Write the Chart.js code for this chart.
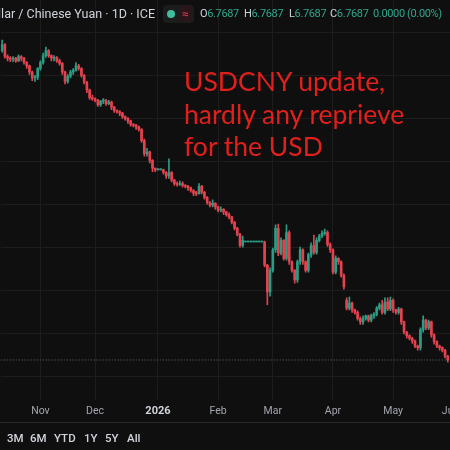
<!DOCTYPE html>
<html><head><meta charset="utf-8">
<script src="https://cdn.jsdelivr.net/npm/chart.js@4/dist/chart.umd.min.js"></script>
<style>
html,body{margin:0;padding:0;background:#0f0f0f;width:450px;height:450px;overflow:hidden;}
#wrap{position:relative;width:450px;height:450px;overflow:hidden;}
canvas{position:absolute;left:0;top:0;}
.ov{position:absolute;white-space:nowrap;font-family:Roboto,"Noto Sans",sans-serif;}
.hv{top:7px;font-size:11px;color:#d1d4dc;letter-spacing:-0.35px;}
.hv span{color:#2fa88e;}
.bt{top:431px;font-size:11.5px;font-weight:500;color:#d1d4dc;}
</style></head><body>
<div id="wrap">
<canvas id="c" width="464" height="450"></canvas>
<div class="ov" style="top:6px;right:295px;font-size:12.5px;color:#d1d4dc;">U.S. Dollar / Chinese Yuan · 1D · ICE</div>
<div class="ov" style="top:5px;left:163px;width:31px;height:18px;border-radius:4px;background:#1b1d1c;"></div>
<div class="ov" style="top:10px;left:167px;width:8px;height:8px;border-radius:4px;background:#3fbf9f;"></div>
<div class="ov" style="top:6px;left:179px;width:13px;height:16px;border-radius:3px;background:#2a1619;color:#d0405a;font-size:12px;line-height:16px;text-align:center;">≈</div>
<div class="ov hv" style="left:200px;">O<span>6.7687</span></div>
<div class="ov hv" style="left:244px;">H<span>6.7687</span></div>
<div class="ov hv" style="left:289px;">L<span>6.7687</span></div>
<div class="ov hv" style="left:330px;">C<span>6.7687</span></div>
<div class="ov hv" style="left:373px;"><span>0.0000 (0.00%)</span></div>
<div class="ov" style="top:65px;left:184px;font-family:Lato,sans-serif;font-size:26.5px;line-height:32.5px;color:#e0201c;">USDCNY update,<br>hardly any reprieve<br>for the USD</div>
<div class="ov" style="top:422px;left:0;width:450px;height:1px;background:#262626;"></div>
<div class="ov bt" style="left:7px;">3M</div>
<div class="ov bt" style="left:30px;">6M</div>
<div class="ov bt" style="left:54px;">YTD</div>
<div class="ov bt" style="left:84px;">1Y</div>
<div class="ov bt" style="left:105px;">5Y</div>
<div class="ov bt" style="left:127px;">All</div>
</div>
<script>
// Trading-day index of each bar (0 = first trading day of Nov 2025)
const firstIndex = -14;
const monthTicks = [0, 20, 43, 65, 85, 107, 129, 150];
const monthLabels = ['Nov', 'Dec', '2026', 'Feb', 'Mar', 'Apr', 'May', 'Jun'];
const yTicks = [6.75, 6.80, 6.85, 6.90, 6.95, 7.00, 7.05, 7.10, 7.15];

const opens = [
7.129,7.136,7.122,7.120,7.119,7.120,7.117,7.122,7.120,7.115,7.111,7.104,7.097,7.098,
7.108,7.115,7.123,7.129,7.123,7.120,7.121,7.117,7.114,7.104,
7.093,7.099,7.104,7.106,7.111,7.108,7.100,7.092,7.083,7.074,
7.073,7.071,7.066,7.070,7.071,7.067,7.069,7.063,7.059,7.058,
7.056,7.052,7.050,7.047,7.043,7.042,7.040,7.037,7.024,7.009,
7.011,7.001,6.992,6.990,6.990,6.990,6.987,6.983,6.987,6.978,
6.974,6.973,6.974,6.972,6.971,6.969,6.966,6.963,6.962,6.971,
6.964,6.958,6.952,6.949,6.951,6.947,6.943,6.944,6.941,6.938,
6.935,6.929,6.922,6.915,6.902,6.906,6.906,6.906,6.906,6.906,
6.906,6.906,6.906,6.879,6.848,6.873,6.897,6.922,6.893,6.908,
6.887,6.917,6.883,6.873,6.862,6.883,6.897,6.883,6.873,6.891,
6.902,6.894,6.908,6.913,6.916,6.917,6.903,6.897,6.871,6.887,
6.883,6.867,6.838,6.829,6.835,6.827,6.824,6.817,6.813,6.817,
6.820,6.815,6.820,6.822,6.829,6.833,6.824,6.836,6.828,6.838,
6.827,6.824,6.828,6.813,6.801,6.797,6.794,6.791,6.785,6.783,
6.804,6.815,6.806,6.813,6.798,6.790,6.785,6.783,6.780,6.773];

const highs = [
7.141,7.137,7.124,7.122,7.122,7.121,7.124,7.123,7.121,7.116,7.112,7.105,7.100,7.109,
7.117,7.126,7.133,7.130,7.124,7.123,7.122,7.119,7.115,7.105,
7.101,7.106,7.108,7.115,7.113,7.109,7.101,7.093,7.084,7.077,
7.074,7.072,7.071,7.073,7.072,7.071,7.070,7.064,7.060,7.059,
7.057,7.053,7.051,7.048,7.044,7.043,7.041,7.038,7.026,7.015,
7.012,7.002,6.992,6.990,6.990,6.991,6.988,7.003,6.988,6.979,
6.976,6.977,6.976,6.973,6.972,6.970,6.967,6.965,6.974,6.972,
6.965,6.959,6.953,6.955,6.952,6.948,6.947,6.945,6.942,6.940,
6.936,6.930,6.923,6.916,6.913,6.906,6.906,6.906,6.906,6.906,
6.906,6.906,6.907,6.880,6.876,6.899,6.926,6.927,6.911,6.909,
6.926,6.919,6.884,6.874,6.885,6.900,6.898,6.884,6.893,6.905,
6.914,6.911,6.915,6.919,6.921,6.919,6.905,6.898,6.890,6.888,
6.884,6.869,6.841,6.842,6.836,6.828,6.826,6.819,6.820,6.821,
6.821,6.822,6.824,6.831,6.835,6.838,6.841,6.841,6.842,6.840,
6.828,6.830,6.829,6.814,6.802,6.798,6.795,6.792,6.786,6.806,
6.820,6.816,6.815,6.814,6.799,6.791,6.786,6.784,6.781,6.774];

const lows = [
7.127,7.120,7.117,7.116,7.116,7.115,7.116,7.117,7.113,7.108,7.101,7.094,7.093,7.095,
7.106,7.113,7.121,7.121,7.117,7.117,7.115,7.112,7.101,7.090,
7.091,7.097,7.101,7.105,7.106,7.098,7.090,7.080,7.072,7.071,
7.069,7.064,7.064,7.067,7.065,7.066,7.060,7.057,7.056,7.053,
7.050,7.048,7.044,7.041,7.040,7.037,7.035,7.022,7.006,7.006,
6.998,6.988,6.988,6.990,6.990,6.985,6.980,6.980,6.976,6.972,
6.971,6.972,6.970,6.969,6.966,6.964,6.960,6.960,6.962,6.962,
6.956,6.950,6.947,6.947,6.944,6.941,6.941,6.938,6.936,6.933,
6.927,6.920,6.913,6.900,6.900,6.906,6.906,6.906,6.906,6.906,
6.906,6.906,6.877,6.833,6.843,6.871,6.894,6.890,6.891,6.885,
6.885,6.880,6.871,6.858,6.859,6.880,6.880,6.871,6.871,6.888,
6.892,6.892,6.906,6.911,6.914,6.901,6.894,6.869,6.869,6.880,
6.865,6.851,6.827,6.827,6.824,6.822,6.815,6.810,6.810,6.815,
6.813,6.813,6.817,6.820,6.827,6.822,6.822,6.826,6.826,6.824,
6.822,6.822,6.810,6.799,6.794,6.792,6.788,6.783,6.780,6.780,
6.801,6.804,6.804,6.795,6.787,6.783,6.780,6.778,6.771,6.766];

const closes = [
7.136,7.122,7.120,7.119,7.120,7.117,7.122,7.120,7.115,7.111,7.104,7.097,7.098,7.108,
7.115,7.123,7.129,7.123,7.120,7.121,7.117,7.114,7.104,7.093,
7.099,7.104,7.106,7.111,7.108,7.100,7.092,7.083,7.074,7.073,
7.071,7.066,7.070,7.071,7.067,7.069,7.063,7.059,7.058,7.056,
7.052,7.050,7.047,7.043,7.042,7.040,7.037,7.024,7.009,7.011,
7.001,6.992,6.990,6.990,6.990,6.987,6.983,6.987,6.978,6.974,
6.973,6.974,6.972,6.971,6.969,6.966,6.963,6.962,6.971,6.964,
6.958,6.952,6.949,6.951,6.947,6.943,6.944,6.941,6.938,6.935,
6.929,6.922,6.915,6.902,6.908,6.906,6.906,6.906,6.906,6.906,
6.906,6.906,6.879,6.848,6.873,6.897,6.922,6.893,6.908,6.887,
6.917,6.883,6.873,6.862,6.883,6.897,6.883,6.873,6.891,6.902,
6.894,6.908,6.913,6.916,6.917,6.903,6.897,6.871,6.887,6.883,
6.867,6.854,6.829,6.835,6.827,6.824,6.817,6.813,6.817,6.820,
6.815,6.820,6.822,6.829,6.833,6.824,6.836,6.828,6.838,6.827,
6.824,6.828,6.813,6.801,6.797,6.794,6.791,6.785,6.783,6.804,
6.815,6.806,6.813,6.798,6.790,6.785,6.783,6.780,6.773,6.7687];

const UP = '#2b9d84', DOWN = '#e5424f';
const n = closes.length;
const idx = Array.from({length: n}, (_, k) => firstIndex + k);
const colors = idx.map((_, k) => closes[k] >= opens[k] ? UP : DOWN);
const bodies = idx.map((x, k) => ({x, y: [opens[k], closes[k]]}));
const wicks = idx.map((x, k) => ({x, y: [lows[k], highs[k]]}));
const last = closes[n - 1];

const FONT = 'Roboto, "Noto Sans", sans-serif';
// horizontal layout: pixel of the first November bar and pixels per trading day
const X_ANCHOR = 40, X_STEP = 2.74;

const chart = new Chart(document.getElementById('c'), {
  type: 'bar',
  data: {
    datasets: [
      {type: 'line', data: [{x: -20, y: last}, {x: 170, y: last}], borderColor: '#6a6d75', borderWidth: 1, borderDash: [1, 2], pointRadius: 0, order: 3},
      {data: wicks, backgroundColor: colors, barThickness: 1, minBarLength: 1, order: 2},
      {data: bodies, backgroundColor: colors, barThickness: 2, minBarLength: 1, order: 1}
    ]
  },
  options: {
    responsive: false,
    animation: false,
    devicePixelRatio: 1,
    layout: {padding: 0},
    datasets: {bar: {grouped: false}},
    plugins: {legend: {display: false}, tooltip: {enabled: false}},
    scales: {
      x: {
        type: 'linear',
        min: -14.6,
        max: 154.7,
        offset: false,
        border: {display: false},
        grid: {color: '#1d1d1d', drawTicks: false, offset: false},
        afterBuildTicks: s => { s.ticks = monthTicks.map(v => ({value: v})); },
        afterFit: s => { s.height = 50; s.paddingLeft = 0; s.paddingRight = 0; },
        ticks: {
          autoSkip: false,
          maxRotation: 0,
          padding: 5,
          callback: (v, i) => monthLabels[i],
          color: c => (c.tick && c.tick.value === 43) ? '#d1d4dc' : '#a3a6af',
          font: c => (c.tick && c.tick.value === 43) ? {family: FONT, size: 11, weight: 'bold'} : {family: FONT, size: 10.5}
        }
      },
      y: {
        type: 'linear',
        min: 6.7221,
        max: 7.1872,
        border: {display: false},
        grid: {color: '#1d1d1d', drawTicks: false},
        afterBuildTicks: s => { s.ticks = yTicks.map(v => ({value: v})); },
        afterFit: s => { s.width = 0; s.paddingTop = 0; s.paddingBottom = 0; },
        ticks: {display: false}
      }
    }
  }
});
const ca = chart.chartArea;
const xMin = -(X_ANCHOR - ca.left) / X_STEP;
chart.options.scales.x.min = xMin;
chart.options.scales.x.max = xMin + (ca.right - ca.left) / X_STEP;
chart.update();
</script>
</body></html>
